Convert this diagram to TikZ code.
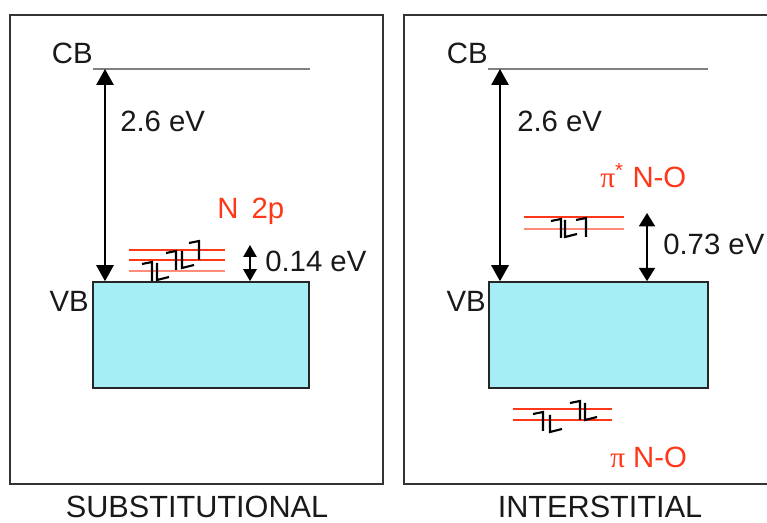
\documentclass[tikz,border=0pt]{standalone}
\usepackage{fontspec}
\setmainfont{Liberation Sans}
\newfontfamily\griega{Liberation Serif}
\usepackage{xcolor}
\usepackage{tikz}
\usetikzlibrary{arrows.meta}

\definecolor{rojo}{RGB}{255,55,25}
\definecolor{rojoclaro}{RGB}{255,140,120}
\definecolor{cian}{RGB}{166,238,245}

\begin{document}
\begin{tikzpicture}[
    x=0.75pt, y=-0.75pt,
    marco/.style={line width=1.5pt, draw=black!80},
    banda/.style={draw=black!85, fill=cian, line width=1.2pt, inner sep=0pt,
                  minimum width=162pt, minimum height=79.5pt},
    nivel/.style={draw=black!50, line width=1.3pt},
    orbital/.style={draw=rojo, line width=1.1pt},
    etiq/.style={inner sep=0pt, text=black!90, font=\fontsize{22}{24}\selectfont},
    titulo/.style={inner sep=0pt, text=black!90, font=\fontsize{23}{25}\selectfont},
    brecha/.style={{Triangle[length=12pt, width=13pt]}-{Triangle[length=12pt, width=13pt]},
                   line width=1.3pt},
    brechachica/.style={{Triangle[length=9pt, width=10pt]}-{Triangle[length=9pt, width=10pt]},
                        line width=1.3pt},
    espin/.style={draw=black, line width=1.6pt},
    espinA/.pic={\draw[espin] (-10,-17) -- (0,-19) -- (0,0);},
    espinB/.pic={\draw[espin] (0,-17) -- (0,0) -- (12,-3);},
]
\useasboundingbox (0,0) rectangle (767,523);

%% Marcos
\draw[marco] (10,15) rectangle (383,484);
\draw[marco] (780,15) -| (404,484) -- (780,484);

%% Substitutional
\node[banda] at (201,335) (vbS) {};
\coordinate (cbS) at (93,69);
\draw[nivel] (cbS) -- ++(217,0);
\node[etiq, anchor=base east] at (93,64)  (cbSt) {CB};
\node[etiq, anchor=base east] at (89,312) (vbSt) {VB};

\coordinate (gS) at (105,69);
\coordinate (dS) at (250,245);
\draw[brecha] (gS) -- (gS |- vbS.north);
\draw[brechachica] (dS) -- (dS |- vbS.north);
\node[etiq, anchor=base west] at (120,132) (eS)   {2.6 eV};
\node[etiq, anchor=base west] at (265,272) (e014) {0.14 eV};

\draw[orbital, line width=1.4pt] (129,250) -- (225,250);
\draw[orbital] (129,260) -- (225,260);
\draw[orbital, draw=rojoclaro] (129,271) -- (225,271);
\pic at (152,281) {espinA};
\pic at (157,280) {espinB};
\pic at (176,270) {espinA};
\pic at (182,268) {espinB};
\pic at (199,260) {espinA};
\node[etiq, anchor=base west, text=rojo] at (217,219) (n2p) {N\hspace{0.45em}2p};

%% Interstitial
\node[banda, minimum width=164pt] at (598.5,335) (vbI) {};
\coordinate (cbI) at (488,69);
\draw[nivel] (cbI) -- ++(220,0);
\node[etiq, anchor=base east] at (488,64)  (cbIt) {CB};
\node[etiq, anchor=base east] at (486,312) (vbIt) {VB};

\coordinate (gI) at (500,69);
\coordinate (dI) at (647,213);
\draw[brecha] (gI) -- (gI |- vbI.north);
\draw[brecha, {Triangle[length=10pt, width=12pt]}-{Triangle[length=10pt, width=12pt]}]
    (dI) -- (dI |- vbI.north);
\node[etiq, anchor=base west] at (517,132) (eI)   {2.6 eV};
\node[etiq, anchor=base west] at (663,255) (e073) {0.73 eV};

\draw[orbital, line width=1.4pt] (524,217) -- (624,217);
\draw[orbital, draw=rojoclaro] (524,229) -- (624,229);
\pic at (561,238) {espinA};
\pic at (565,237) {espinB};
\pic at (586,237) {espinA};
\node[etiq, anchor=base west, text=rojo] at (600,188) (pie)
    {{\griega π}\textsuperscript{*}\hspace{0.3em}N-O};

\draw[orbital] (513,409) -- (612,409);
\draw[orbital] (513,420) -- (612,420);
\pic at (543,431) {espinA};
\pic at (550,432) {espinB};
\pic at (580,420) {espinA};
\pic at (585,420) {espinB};
\node[etiq, anchor=base west, text=rojo] at (610,467) (pi) {{\griega π} N-O};

%% Titulos
\node[titulo, anchor=base] at (197,517) (tS) {SUBSTITUTIONAL};
\node[titulo, anchor=base] at (600,517) (tI) {INTERSTITIAL};
\end{tikzpicture}
\end{document}
